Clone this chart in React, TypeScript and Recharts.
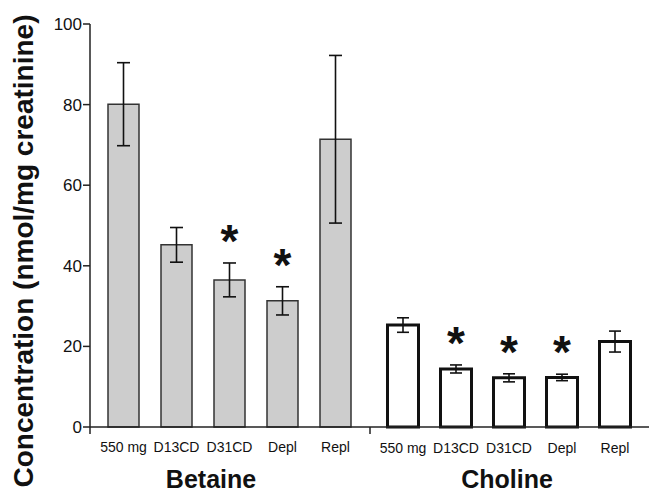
import React from 'react';
import { BarChart, Bar, XAxis, YAxis, ErrorBar, LabelList } from 'recharts';

const categories = ['550 mg', 'D13CD', 'D31CD', 'Depl', 'Repl'];
const betaine = [80.1, 45.2, 36.5, 31.3, 71.4];
const betaineErr = [10.3, 4.3, 4.2, 3.5, 20.8];
const betaineSig = [false, false, true, true, false];
const choline = [25.3, 14.4, 12.2, 12.3, 21.2];
const cholineErr = [1.8, 1.0, 1.0, 0.8, 2.6];
const cholineSig = [false, true, true, true, false];
const yTicks = [0, 20, 40, 60, 80, 100];

const FONT = '"Liberation Sans", Arial, Helvetica, sans-serif';

const data = categories.map((label, i) => ({
  label,
  betaine: betaine[i],
  betaineErr: betaineErr[i],
  choline: choline[i],
  cholineErr: cholineErr[i],
}));

const makeSig = (sig: boolean[], vals: number[], errs: number[]) => (props: any) => {
  const { x, y, width, height, index } = props;
  if (index == null || !sig[index]) return null;
  const perUnit = height / vals[index];
  const errTop = y - errs[index] * perUnit;
  return (
    <text
      x={x + width / 2}
      y={errTop - 6}
      textAnchor="middle"
      fontSize={46}
      fontWeight="bold"
      fontFamily={FONT}
      fill="#111"
    >
      *
    </text>
  );
};

const betaineLabel = () => (
  <g>
    <line x1={90} x2={90} y1={427} y2={434} stroke="#222" strokeWidth={1.5} />
    <line x1={370} x2={370} y1={427} y2={434} stroke="#222" strokeWidth={1.5} />
    <text x={211} y={488} textAnchor="middle" fontSize={25} fontWeight="bold" fontFamily={FONT} fill="#111">
      Betaine
    </text>
  </g>
);

const cholineLabel = () => (
  <text x={507} y={488} textAnchor="middle" fontSize={25} fontWeight="bold" fontFamily={FONT} fill="#111">
    Choline
  </text>
);

const yLabel = () => (
  <text
    transform="translate(33,251) rotate(-90)"
    textAnchor="middle"
    fontSize={28}
    fontWeight="bold"
    fontFamily={FONT}
    fill="#111"
  >
    Concentration (nmol/mg creatinine)
  </text>
);

const tickStyle = { fontSize: 14, fill: '#111', fontFamily: FONT };

export default function App() {
  return (
    <div style={{ position: 'absolute', left: 0, top: 0, background: '#fff' }}>
      <BarChart width={649} height={492} data={data} margin={{ top: 24, right: 0, left: 0, bottom: 63 }}>
        <XAxis
          xAxisId="b"
          dataKey="label"
          height={1}
          padding={{ left: 7, right: 287 }}
          tickLine={false}
          tickSize={6}
          tickMargin={9}
          interval={0}
          axisLine={{ stroke: '#222', strokeWidth: 1.5 }}
          tick={tickStyle}
          label={{ content: betaineLabel }}
        />
        <XAxis
          xAxisId="c"
          dataKey="label"
          height={1}
          padding={{ left: 286.5, right: 7.5 }}
          tickLine={false}
          tickSize={6}
          tickMargin={9}
          interval={0}
          axisLine={false}
          tick={tickStyle}
          label={{ content: cholineLabel }}
        />
        <YAxis
          domain={[0, 100]}
          ticks={yTicks}
          width={90}
          tickSize={7}
          tickMargin={1}
          interval={0}
          axisLine={{ stroke: '#222', strokeWidth: 1.5 }}
          tickLine={{ stroke: '#222', strokeWidth: 1.5 }}
          tick={{ fontSize: 17, fill: '#111', fontFamily: FONT }}
          label={{ content: yLabel }}
        />
        <Bar
          xAxisId="b"
          dataKey="betaine"
          barSize={31}
          fill="#cdcdcd"
          stroke="#333"
          strokeWidth={1.5}
          isAnimationActive={false}
        >
          <ErrorBar dataKey="betaineErr" width={6.5} stroke="#111" strokeWidth={1.6} />
          <LabelList dataKey="betaine" content={makeSig(betaineSig, betaine, betaineErr)} />
        </Bar>
        <Bar
          xAxisId="c"
          dataKey="choline"
          barSize={31}
          fill="#fff"
          stroke="#111"
          strokeWidth={3}
          isAnimationActive={false}
        >
          <ErrorBar dataKey="cholineErr" width={6} stroke="#111" strokeWidth={1.6} />
          <LabelList dataKey="choline" content={makeSig(cholineSig, choline, cholineErr)} />
        </Bar>
      </BarChart>
    </div>
  );
}
